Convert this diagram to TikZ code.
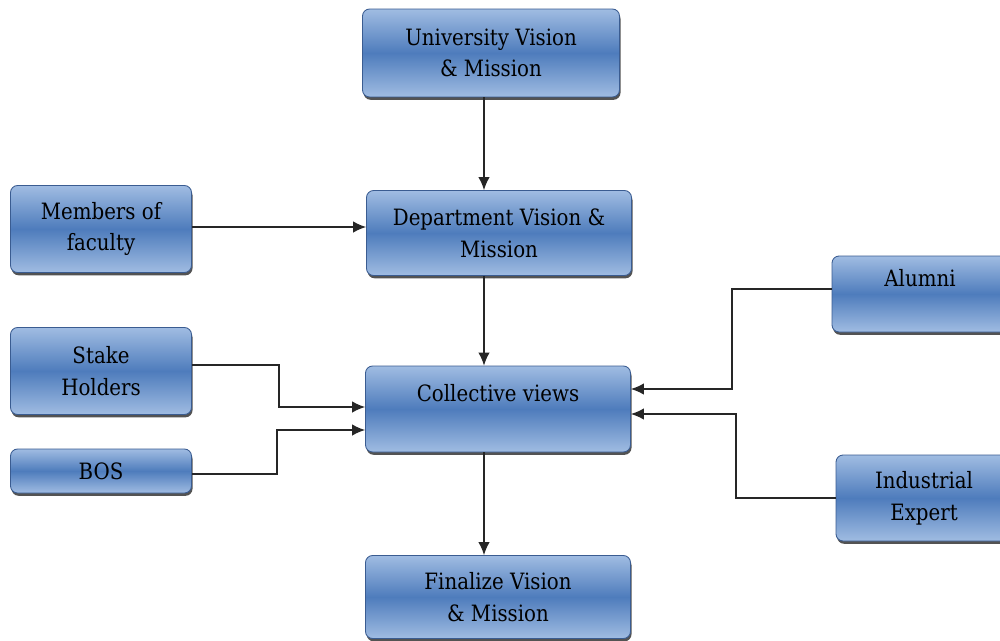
\documentclass[tikz,border=0pt]{standalone}
\usepackage{fontspec}
\setmainfont{DejaVu Serif}[FakeStretch=0.88]
\usepackage{tikz}
\usetikzlibrary{arrows.meta,shadows}
\definecolor{haut}{RGB}{160,188,226}
\definecolor{milieu}{RGB}{78,124,188}
\definecolor{bord}{RGB}{58,92,145}
\begin{document}
\begin{tikzpicture}[x=0.02cm, y=-0.02cm, font=\fontsize{12.8}{18}\selectfont,
  boite/.style={draw=bord, line width=0.5pt, rounded corners=4pt, align=center,
    top color=haut, bottom color=haut, middle color=milieu, text=black,
    drop shadow={shadow xshift=0.6pt, shadow yshift=-1.6pt, fill=black!75, opacity=0.9},
    inner sep=0pt},
  large/.style={boite, minimum width=5.3cm, minimum height=1.72cm},
  etroite/.style={boite, minimum width=3.62cm, minimum height=1.74cm},
  fleche/.style={-{Latex[length=2.6mm, width=2.3mm]}, line width=0.8pt, color=black!85}]
\useasboundingbox (0,0) rectangle (1000,640);
\clip (0,0) rectangle (1000,640);
\coordinate (axe) at (484,0);
\node[large, minimum width=5.14cm, minimum height=1.76cm] (univ) at (491,53) {University Vision\\\& Mission};
\node[large, minimum height=1.7cm] (dept) at (499,233) {Department Vision \&\\Mission};
\node[etroite] (membres) at (101,229) {Members of\\faculty};
\node[etroite] (stake) at (101,371) {Stake\\Holders};
\node[etroite, minimum height=0.88cm] (bos) at (101,471) {BOS};
\node[large] (coll) at (498,409) {Collective views\\\mbox{}};
\node[large, minimum height=1.66cm] (fin) at (498,597) {Finalize Vision\\\& Mission};
\node[etroite, minimum width=3.52cm, minimum height=1.52cm] (alumni) at (920,294) {Alumni\\\mbox{}};
\node[etroite, minimum width=3.52cm, minimum height=1.72cm] (indus) at (924,498) {Industrial\\Expert};
\draw[fleche] (univ.south -| axe) -- (dept.north -| axe);
\draw[fleche] (membres.east |- 0,227) -- (dept.west |- 0,227);
\draw[fleche] (dept.south -| axe) -- (coll.north -| axe);
\draw[fleche] (stake.east |- 0,365) -| (279,407) -- (coll.west |- 0,407);
\draw[fleche] (bos.east |- 0,474) -| (277,430) -- (coll.west |- 0,430);
\draw[fleche] (alumni.west |- 0,289) -| (732,389) -- (coll.east |- 0,389);
\draw[fleche] (indus.west |- 0,498) -| (736,414) -- (coll.east |- 0,414);
\draw[fleche] (coll.south -| axe) -- (fin.north -| axe);
\end{tikzpicture}
\end{document}
